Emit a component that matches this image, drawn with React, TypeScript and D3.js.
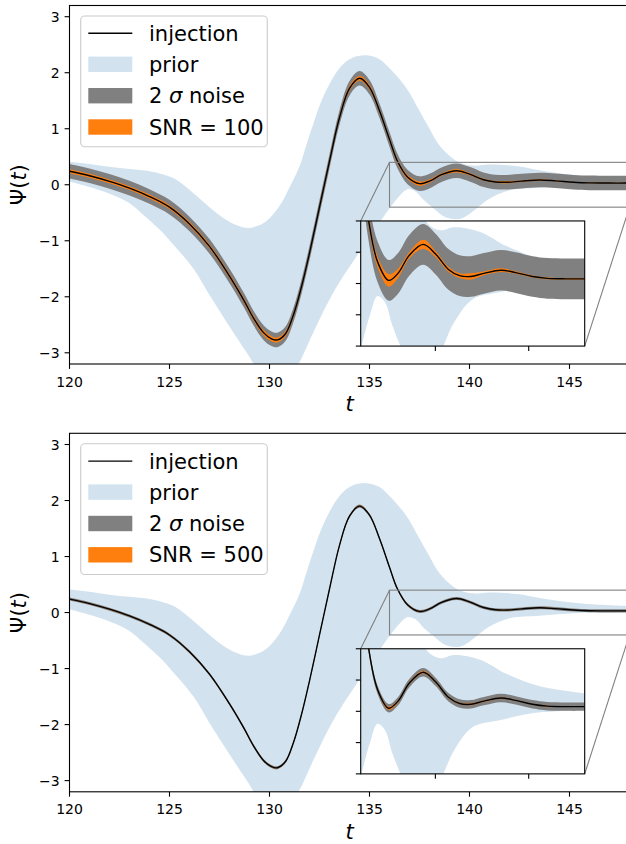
import React from 'react';
import * as d3 from 'd3';

// Injected waveform Ψ(t)
const injectionT = [120, 121, 122, 123, 124, 125, 126, 127, 128, 128.7, 129.2, 129.7, 130.1, 130.4, 130.8, 131.2, 131.6, 132, 132.5, 133, 133.5, 134, 134.5, 135, 135.5, 136, 136.4, 136.9, 137.5, 138, 138.6, 139.35, 140, 140.7, 141.3, 141.9, 142.6, 143.5, 144.3, 145.2, 146, 147, 148];
const injectionV = [0.24, 0.16, 0.06, -0.06, -0.21, -0.4, -0.7, -1.1, -1.63, -2.05, -2.38, -2.64, -2.75, -2.77, -2.66, -2.32, -1.82, -1.22, -0.4, 0.42, 1.2, 1.72, 1.9, 1.74, 1.32, 0.81, 0.42, 0.14, 0.02, 0.065, 0.18, 0.25, 0.19, 0.09, 0.05, 0.045, 0.065, 0.085, 0.07, 0.045, 0.033, 0.03, 0.03];

// Prior band edges
const priorUpperT = [120, 121, 122, 123, 124, 124.5, 125.3, 126.2, 127, 127.8, 128.5, 129, 129.8, 130.5, 131, 131.5, 131.85, 132.2, 132.7, 133.5, 134.1, 134.86, 135.5, 136, 136.86, 137.5, 138, 138.5, 139.2, 139.7, 140.3, 141, 142.4, 143.8, 145.6, 148];
const priorUpperV = [0.41, 0.37, 0.32, 0.28, 0.24, 0.2, 0.1, -0.15, -0.4, -0.62, -0.74, -0.77, -0.66, -0.38, -0.05, 0.33, 0.72, 1.1, 1.58, 2.08, 2.26, 2.31, 2.24, 2.08, 1.72, 1.32, 1.0, 0.7, 0.46, 0.37, 0.34, 0.36, 0.33, 0.24, 0.16, 0.115];
const priorLowerT = [120, 121, 122, 123, 123.7, 124.5, 125, 126.2, 127, 127.85, 128.85, 129.5, 130.3, 131, 131.45, 132.2, 132.85, 133.5, 134.5, 135.3, 136, 136.5, 136.9, 137.3, 137.7, 138.2, 138.8, 139.5, 140, 140.5, 141, 142, 143.5, 145, 146.5, 148];
const priorLowerV = [0.06, -0.04, -0.16, -0.33, -0.54, -0.8, -0.99, -1.5, -1.97, -2.45, -2.99, -3.33, -3.5, -3.42, -3.2, -2.63, -2.15, -1.74, -1.2, -0.78, -0.42, -0.2, -0.08, -0.12, -0.27, -0.42, -0.58, -0.61, -0.52, -0.38, -0.25, -0.1, -0.055, -0.015, 0.0, 0.008];

// 2σ noise half-width per panel
const noiseHalfWidth = [0.13, 0.027];

// Posterior half-width at each injection sample, per SNR
const posteriorHalf100 = [0.035, 0.035, 0.035, 0.035, 0.035, 0.035, 0.035, 0.035, 0.035, 0.035, 0.04, 0.045, 0.045, 0.045, 0.045, 0.035, 0.03, 0.03, 0.03, 0.03, 0.03, 0.04, 0.04, 0.04, 0.03, 0.03, 0.03, 0.035, 0.04, 0.03, 0.02, 0.03, 0.02, 0.015, 0.015, 0.02, 0.012, 0.012, 0.008, 0.006, 0.005, 0.005, 0.005];
const posteriorHalf500 = [0.008, 0.008, 0.008, 0.008, 0.008, 0.008, 0.008, 0.008, 0.008, 0.008, 0.009, 0.01, 0.01, 0.01, 0.01, 0.008, 0.007, 0.007, 0.007, 0.007, 0.007, 0.009, 0.009, 0.009, 0.007, 0.007, 0.007, 0.008, 0.01, 0.008, 0.006, 0.008, 0.006, 0.005, 0.005, 0.006, 0.004, 0.004, 0.003, 0.003, 0.003, 0.003, 0.003];

const snrLabels = ['100', '500'];
const legendLabels = ['injection', 'prior', 'noise', 'SNR'];

const xDomain = [120, 148];
const yDomain = [-3.2, 3.2];
const xTicks = [120, 125, 130, 135, 140, 145];
const yTicks = [-3, -2, -1, 0, 1, 2, 3];
const insetXDomain = [136, 148];
const insetYDomain = [-0.4, 0.4];
const insetXTicks = [140, 145];
const insetYTicks = [-0.4, -0.2, 0, 0.2, 0.4];

const FONT = 'DejaVu Sans, sans-serif';
const PRIOR_FILL = '#d2e3ef';
const NOISE_FILL = '#808080';
const POST_FILL = '#ff7f0e';
const BOX_GRAY = '#808080';

type Pt = [number, number];
const fmt = (v: number) => (v < 0 ? '\u2212' + Math.abs(v) : String(v));
const smooth = d3.curveCatmullRom.alpha(0.5);

function Curves({ xs, ys, noise, posterior }: { xs: d3.ScaleLinear<number, number>; ys: d3.ScaleLinear<number, number>; noise: number; posterior: number[] }) {
  const line = d3.line<Pt>().x(d => xs(d[0])).y(d => ys(d[1])).curve(smooth);
  const upper: Pt[] = priorUpperT.map((t, i) => [t, priorUpperV[i]]);
  const lower: Pt[] = priorLowerT.map((t, i) => [t, priorLowerV[i]]).reverse() as Pt[];
  const priorD = line(upper)! + 'L' + line(lower)!.slice(1) + 'Z';
  const idx = injectionT.map((_, i) => i);
  const band = (w: (i: number) => number) =>
    d3.area<number>()
      .x(i => xs(injectionT[i]))
      .y0(i => ys(injectionV[i] - w(i)))
      .y1(i => ys(injectionV[i] + w(i)))
      .curve(smooth)(idx)!;
  const inj: Pt[] = injectionT.map((t, i) => [t, injectionV[i]]);
  return (
    <g>
      <path d={priorD} fill={PRIOR_FILL} stroke="none" />
      <path d={band(() => noise)} fill={NOISE_FILL} stroke="none" />
      <path d={band(i => posterior[i])} fill={POST_FILL} stroke="none" />
      <path d={line(inj)!} fill="none" stroke="#000" strokeWidth={1.4} />
    </g>
  );
}

function Panel({ offset, k }: { offset: number; k: number }) {
  const left = 69.5, right = 629.5, top = offset + 5.5, bottom = offset + 364;
  const x = d3.scaleLinear().domain(xDomain).range([left, right]);
  const y = d3.scaleLinear().domain(yDomain).range([bottom, top]);
  const w = right - left, h = bottom - top;
  const inL = left + 0.52 * w, inR = inL + 0.4 * w;
  const inT = top + 0.601 * h, inB = inT + 0.349 * h;
  const xi = d3.scaleLinear().domain(insetXDomain).range([inL, inR]);
  const yi = d3.scaleLinear().domain(insetYDomain).range([inB, inT]);
  const noise = noiseHalfWidth[k];
  const posterior = k === 0 ? posteriorHalf100 : posteriorHalf500;
  const mainClip = `main-clip-${k}`;
  const insetClip = `inset-clip-${k}`;

  const legX = 80.7, legY = offset + 16;
  const rowY = [33.3, 64.3, 95.7, 127].map(v => v + offset);
  const hx0 = 88.3, hx1 = 132.3, tx = 149;

  return (
    <g>
      <defs>
        <clipPath id={mainClip}><rect x={left} y={top} width={w} height={h} /></clipPath>
        <clipPath id={insetClip}><rect x={inL} y={inT} width={inR - inL} height={inB - inT} /></clipPath>
      </defs>
      <g clipPath={`url(#${mainClip})`}>
        <Curves xs={x} ys={y} noise={noise} posterior={posterior} />
        <rect x={x(insetXDomain[0])} y={y(insetYDomain[1])} width={x(insetXDomain[1]) - x(insetXDomain[0])} height={y(insetYDomain[0]) - y(insetYDomain[1])} fill="none" stroke={BOX_GRAY} strokeWidth={1.1} />
      </g>
      <line x1={inL} y1={inT} x2={x(insetXDomain[0])} y2={y(insetYDomain[1])} stroke={BOX_GRAY} strokeWidth={1.1} />
      <line x1={inR} y1={inB} x2={x(insetXDomain[1])} y2={y(insetYDomain[0])} stroke={BOX_GRAY} strokeWidth={1.1} />

      {/* spines */}
      <rect x={left} y={top} width={w} height={h} fill="none" stroke="#000" strokeWidth={1.1} />

      {/* x axis */}
      {xTicks.map(t => (
        <g key={t}>
          <line x1={x(t)} x2={x(t)} y1={bottom} y2={bottom + 4.9} stroke="#000" strokeWidth={1.1} />
          <text x={x(t)} y={bottom + 22.5} fontSize={14} fontFamily={FONT} textAnchor="middle">{t}</text>
        </g>
      ))}
      <text x={(left + right) / 2} y={offset + 411} fontSize={21} fontFamily={FONT} fontStyle="italic" textAnchor="middle">t</text>

      {/* y axis */}
      {yTicks.map(t => (
        <g key={t}>
          <line x1={left - 4.9} x2={left} y1={y(t)} y2={y(t)} stroke="#000" strokeWidth={1.1} />
          <text x={left - 9.8} y={y(t) + 5.2} fontSize={14} fontFamily={FONT} textAnchor="end">{fmt(t)}</text>
        </g>
      ))}
      <text transform={`translate(26,${(top + bottom) / 2}) rotate(-90)`} fontSize={21} fontFamily={FONT} textAnchor="middle">
        Ψ(<tspan fontStyle="italic">t</tspan>)
      </text>

      {/* legend */}
      <rect x={legX} y={legY} width={186.6} height={130.7} rx={4} fill="#fff" fillOpacity={0.8} stroke="#cccccc" strokeWidth={1.1} />
      <line x1={hx0} x2={hx1} y1={rowY[0]} y2={rowY[0]} stroke="#000" strokeWidth={1.4} />
      <rect x={hx0} y={rowY[1] - 7.7} width={hx1 - hx0} height={15.4} fill={PRIOR_FILL} />
      <rect x={hx0} y={rowY[2] - 7.7} width={hx1 - hx0} height={15.4} fill={NOISE_FILL} />
      <rect x={hx0} y={rowY[3] - 7.7} width={hx1 - hx0} height={15.4} fill={POST_FILL} />
      <text x={tx} y={rowY[0] + 7.6} fontSize={21} fontFamily={FONT}>{legendLabels[0]}</text>
      <text x={tx} y={rowY[1] + 7.6} fontSize={21} fontFamily={FONT}>{legendLabels[1]}</text>
      <text x={tx} y={rowY[2] + 7.6} fontSize={21} fontFamily={FONT}>2 <tspan fontStyle="italic">σ</tspan> {legendLabels[2]}</text>
      <text x={tx} y={rowY[3] + 7.6} fontSize={21} fontFamily={FONT}>{legendLabels[3]} = {snrLabels[k]}</text>

      {/* zoomed inset */}
      <rect x={inL} y={inT} width={inR - inL} height={inB - inT} fill="#fff" />
      <g clipPath={`url(#${insetClip})`}>
        <Curves xs={xi} ys={yi} noise={noise} posterior={posterior} />
      </g>
      <rect x={inL} y={inT} width={inR - inL} height={inB - inT} fill="none" stroke="#000" strokeWidth={1.1} />
      {insetXTicks.map(t => (
        <line key={t} x1={xi(t)} x2={xi(t)} y1={inB} y2={inB + 4.9} stroke="#000" strokeWidth={1.1} />
      ))}
      {insetYTicks.map(t => (
        <line key={t} x1={inL - 4.9} x2={inL} y1={yi(t)} y2={yi(t)} stroke="#000" strokeWidth={1.1} />
      ))}
    </g>
  );
}

export default function App() {
  return (
    <div style={{ position: 'absolute', left: 0, top: 0 }}>
      <svg width={626} height={844} style={{ display: 'block', background: '#fff' }}>
        <Panel offset={0} k={0} />
        <Panel offset={427.8} k={1} />
      </svg>
    </div>
  );
}
